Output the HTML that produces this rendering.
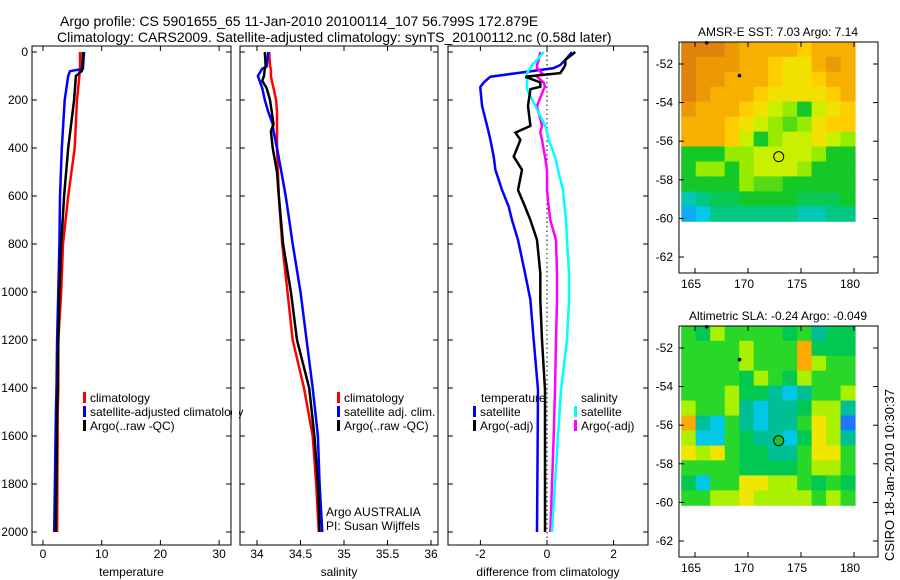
<!DOCTYPE html>
<html><head><meta charset="utf-8"><style>
body{margin:0;background:#fff;}
svg{display:block;font-family:"Liberation Sans",sans-serif;}
text{fill:#000;}
</style></head><body>
<svg id="chart" width="900" height="580" viewBox="0 0 900 580" xmlns="http://www.w3.org/2000/svg">
<rect x="0" y="0" width="900" height="580" fill="#fff"/>
<text x="60" y="26" font-size="14">Argo profile: CS 5901655_65 11-Jan-2010 20100114_107 56.799S 172.879E</text>
<text x="57" y="42" font-size="14">Climatology: CARS2009. Satellite-adjusted climatology: synTS_20100112.nc (0.58d later)</text>
<g id="g"></g>
<text transform="translate(894,475) rotate(-90)" text-anchor="middle" font-size="13">CSIRO 18-Jan-2010 10:30:37</text>
</svg>
<script>
// ---------- profile data ----------
const tempDepth = [0,70,80,100,200,400,600,800,1000,1200,1400,1500,2000];
const tempClim  = [6.3,6.3,6.2,6.2,5.8,5.4,4.3,3.4,3.1,2.6,2.6,2.5,2.4];
const tempSat   = [7.0,6.8,4.6,4.3,3.7,3.2,2.9,2.8,2.6,2.4,2.3,2.2,1.9];
const tempArgo  = [6.8,6.7,6.6,5.6,5.3,4.3,3.6,3.1,2.8,2.6,2.5,2.4,2.2];

const salDepth = [0,60,70,100,120,150,200,250,300,330,400,500,600,800,1000,1200,1400,1600,1800,2000];
const salClim  = [34.14,34.15,34.16,34.16,34.17,34.19,34.22,34.23,34.23,34.23,34.23,34.24,34.25,34.29,34.35,34.41,34.54,34.64,34.68,34.71];
const salSat   = [34.13,34.11,34.06,34.01,34.03,34.06,34.09,34.13,34.18,34.19,34.23,34.28,34.33,34.41,34.50,34.57,34.64,34.70,34.72,34.75];
const salArgo  = [34.09,34.10,34.09,34.08,34.06,34.11,34.15,34.17,34.19,34.16,34.18,34.23,34.25,34.30,34.39,34.46,34.60,34.66,34.70,34.72];

const diffDepth = [0,33,54,67,88,103,127,145,155,225,308,336,366,436,491,575,644,700,783,921,1033,1200,1408,1600,2000];
const dTempSat  = [0.75,0.55,0.4,0.2,-0.9,-1.7,-1.9,-2.0,-2.0,-1.95,-1.8,-1.75,-1.7,-1.6,-1.55,-1.35,-1.15,-1.05,-0.87,-0.66,-0.5,-0.4,-0.27,-0.28,-0.3];
const dTempArgo = [0.85,0.55,0.55,0.5,0.4,-0.65,-0.2,-0.2,-0.5,-0.57,-0.5,-0.95,-0.8,-1.0,-0.75,-0.87,-0.66,-0.5,-0.3,-0.2,-0.2,-0.15,-0.06,-0.06,-0.06];
const dSalSat   = [-0.1,-0.3,-0.45,-0.5,-0.6,-0.6,-0.6,-0.6,-0.6,-0.35,-0.05,0,0.05,0.24,0.33,0.48,0.53,0.57,0.6,0.66,0.66,0.6,0.42,0.33,0.15];
const dSalArgo  = [-0.2,-0.25,-0.3,-0.3,-0.15,-0.3,-0.1,-0.06,-0.1,-0.3,-0.15,-0.2,-0.15,-0.06,0,0,0.05,0.1,0.27,0.3,0.3,0.27,0.24,0.2,0.1];

const depthTicks = [0,200,400,600,800,1000,1200,1400,1600,1800,2000];
const tempTicks = [0,10,20,30];
const salTicks = [34,34.5,35,35.5,36];
const diffTicks = [-2,0,2];

// ---------- map data (12x12, north row first) ----------
const sstGrid = [
[9,9,9,8.5,8,8,8,8,7.5,8,8,8],
[9,8.5,8.5,8.5,8,8,7.5,7,7,8,8.5,8],
[9,8.5,8.5,8,8,8,7.5,7,7,7.5,8,8],
[9,8.5,8,8,8,7.5,7,7,7,7,7.5,8],
[8.5,8,8,8,7.5,7,6.5,6,5,6.5,7,7.5],
[8,8,8,7.5,7,6.5,6,5.5,6,7,7.5,7.5],
[8,8,8,7.5,6.5,5,6,6.5,6.5,7,6.5,6],
[5,5,5,6,6,6.5,6.5,6.5,6.5,6,5,5],
[5,6,6,5,6,6.5,6.5,6.5,6,5,5,5],
[5,5,5,5,6,5.5,5.5,5,5,5,5,5],
[3.5,4,4.5,4.5,5,5,5,5,4.5,4.5,4.5,5],
[2.5,3,4,4,4,4,4,4,3.5,3.5,4,4]];
const slaGrid = [
[0,-0.1,0.1,0,0,0,0,-0.1,0,-0.2,-0.1,-0.1],
[0,0,0,0,0.1,0,0,0,0.3,-0.1,-0.1,-0.1],
[0,0,0,0,0.1,0,0,0,0.3,0.1,0,0],
[0,0,0,0,-0.1,0.1,0,-0.1,0.1,0,0,0],
[0,0,0,0.1,-0.1,-0.1,-0.2,-0.3,-0.2,0,0,0.1],
[0.1,0,0,0.1,-0.2,-0.3,-0.2,-0.2,-0.1,0.1,0.1,-0.2],
[0.3,-0.2,-0.3,0,-0.2,-0.3,-0.2,-0.2,0,0.2,0.1,-0.4],
[0.1,-0.3,-0.3,0,-0.1,-0.2,-0.2,-0.3,-0.1,0.2,0.1,-0.2],
[0.2,0.1,0.2,0,-0.1,-0.1,-0.2,-0.2,0,0.2,0.2,0],
[0,0,0,0,-0.1,-0.1,-0.1,-0.1,0,0.1,0.1,0],
[-0.1,-0.3,0,0,0.2,0.2,0.1,0.1,0,-0.1,0,-0.1],
[0,0,0.1,0.1,0.2,0.1,0.1,0.1,0.1,0,0.1,0]];
const gridLon = [163.7,180.1];
const gridLat = [-50.85,-60.15];
const lonTicks = [165,170,175,180];
const latTicks = [-52,-54,-56,-58,-60,-62];
const argoPos = [172.9,-56.8];
const prevPos = [[169.2,-52.6],[166.1,-50.9]];

const NS='http://www.w3.org/2000/svg';
const G=document.getElementById('g');
function mk(tag,attrs,parent){const e=document.createElementNS(NS,tag);for(const k in attrs)e.setAttribute(k,attrs[k]);(parent||G).appendChild(e);return e;}

const yD = d => 52 + d*0.24;
function panel(name,x0,x1,xs,ticks,tickFmt,label,showY){
  const top=46,bot=545;
  const gp=mk('g',{});
  
  
  const r=mk('rect',{x:x0,y:top,width:x1-x0,height:bot-top,fill:'none',stroke:'#000','stroke-width':1},gp);
  
  
  ticks.forEach(t=>{const x=xs(t);
    mk('line',{x1:x,x2:x,y1:bot,y2:bot-5,stroke:'#000'},gp);
    mk('line',{x1:x,x2:x,y1:top,y2:top+5,stroke:'#000'},gp);
    const tx=mk('text',{x:x,y:558,'font-size':12,'text-anchor':'middle'},gp);tx.textContent=tickFmt(t);
    
    
  });
  depthTicks.forEach(d=>{const y=yD(d);
    mk('line',{x1:x0,x2:x0+5,y1:y,y2:y,stroke:'#000'},gp);
    mk('line',{x1:x1,x2:x1-5,y1:y,y2:y,stroke:'#000'},gp);
    if(showY){const tx=mk('text',{x:28,y:y+4,'font-size':12,'text-anchor':'end'},gp);tx.textContent=d;
      
      }
  });
  const lb=mk('text',{x:(x0+x1)/2,y:576,'font-size':12,'text-anchor':'middle'},gp);lb.textContent=label;
  
  
  return gp;
}
function line(gp,xs,depths,vals,color,name){
  const pts=depths.map((d,i)=>xs(vals[i]).toFixed(1)+','+yD(d).toFixed(1)).join(' ');
  const p=mk('polyline',{points:pts,fill:'none',stroke:color,'stroke-width':2.5},gp);
  
  
}
function legend(gp,x,y,color,txt,name){
  if(color){const m=mk('rect',{x:x,y:y-10,width:3,height:11,fill:color},gp);
    
    }
  const t=mk('text',{x:x+(color?7:0),y:y,'font-size':12},gp);t.textContent=txt;
  
  
}

// temperature panel
const xT=t=>43+t*5.87;
const p1=panel('temperature-panel',32,231,xT,tempTicks,t=>t,'temperature',true);
line(p1,xT,tempDepth,tempClim,'#f00','temp-climatology-line');
line(p1,xT,tempDepth,tempSat,'#00f','temp-satellite-line');
line(p1,xT,tempDepth,tempArgo,'#000','temp-argo-line');
legend(p1,83,402,'#f00','climatology','legend-climatology');
legend(p1,83,416,'#00f','satellite-adjusted climatology','legend-satellite');
legend(p1,83,430,'#000','Argo(..raw -QC)','legend-argo');
// cover overflow of legend beyond panel
mk('rect',{x:232,y:395,width:7,height:30,fill:'#fff'});

// salinity panel
const xS=s=>257+(s-34)*87;
const p2=panel('salinity-panel',240,438,xS,salTicks,t=>t,'salinity',false);
line(p2,xS,salDepth,salClim,'#f00','sal-climatology-line');
line(p2,xS,salDepth,salSat,'#00f','sal-satellite-line');
line(p2,xS,salDepth,salArgo,'#000','sal-argo-line');
legend(p2,337,402,'#f00','climatology','legend-sal-climatology');
legend(p2,337,416,'#00f','satellite adj. clim.','legend-sal-satellite');
legend(p2,337,430,'#000','Argo(..raw -QC)','legend-sal-argo');
legend(p2,326,516,null,'Argo AUSTRALIA','argo-australia-label');
legend(p2,326,530,null,'PI: Susan Wijffels','pi-label');

// difference panel
const xDf=d=>547+d*33.3;
const p3=panel('difference-panel',448,648,xDf,diffTicks,t=>t,'difference from climatology',false);
const zl=mk('line',{x1:xDf(0),x2:xDf(0),y1:46,y2:545,stroke:'#000','stroke-dasharray':'1.5,3'},p3);


line(p3,xDf,diffDepth,dTempSat,'#00f','diff-temp-satellite-line');
line(p3,xDf,diffDepth,dSalArgo,'#f0f','diff-sal-argo-line');
line(p3,xDf,diffDepth,dSalSat,'#0ff','diff-sal-satellite-line');
line(p3,xDf,diffDepth,dTempArgo,'#000','diff-temp-argo-line');
legend(p3,481,402,null,'temperature','legend-temperature-heading');
legend(p3,473,416,'#00f','satellite','legend-diff-temp-satellite');
legend(p3,473,430,'#000','Argo(-adj)','legend-diff-temp-argo');
legend(p3,581,402,null,'salinity','legend-salinity-heading');
legend(p3,574,416,'#0ff','satellite','legend-diff-sal-satellite');
legend(p3,574,430,'#f0f','Argo(-adj)','legend-diff-sal-argo');

// ---------- maps ----------
function lerp(a,b,t){return a+(b-a)*t;}
function cmap(stops,v){
  if(v<=stops[0][0])return stops[0][1];
  for(let i=1;i<stops.length;i++){if(v<=stops[i][0]){const t=(v-stops[i-1][0])/(stops[i][0]-stops[i-1][0]);
    const a=stops[i-1][1],b=stops[i][1];return 'rgb('+[0,1,2].map(k=>Math.round(lerp(a[k],b[k],t))).join(',')+')';}}
  return stops[stops.length-1][1];
}
function rgbS(s){return s.map(v=>[v[0],'rgb('+v[1].join(',')+')',v[1]]);}
const sstStops=[[2,[30,144,255]],[3,[0,200,230]],[4,[0,200,130]],[5,[20,200,40]],[6,[150,235,0]],[6.5,[200,240,0]],[7,[240,225,0]],[7.5,[255,205,0]],[8,[248,176,0]],[9,[225,130,10]]];
const slaStops=[[-0.4,[30,120,255]],[-0.3,[0,200,230]],[-0.2,[0,190,150]],[-0.1,[0,200,80]],[0,[40,215,40]],[0.1,[170,240,0]],[0.2,[240,230,0]],[0.3,[250,170,0]]];
function cm(stops,v){
  if(v<=stops[0][0])return 'rgb('+stops[0][1].join(',')+')';
  for(let i=1;i<stops.length;i++){if(v<=stops[i][0]){const t=(v-stops[i-1][0])/(stops[i][0]-stops[i-1][0]);
    const a=stops[i-1][1],b=stops[i][1];return 'rgb('+[0,1,2].map(k=>Math.round(lerp(a[k],b[k],t))).join(',')+')';}}
  return 'rgb('+stops[stops.length-1][1].join(',')+')';
}
function map(name,top,grid,stops,title,filledCircle){
  const bot=top+231;
  const xL=lon=>748+(lon-170)*10.6;
  const yL=lat=>top+22+(-52-lat)*19.3;
  const gm=mk('g',{});
  
  
  const rows=grid.length, cols=grid[0].length;
  const dlon=(gridLon[1]-gridLon[0])/cols, dlat=(gridLat[0]-gridLat[1])/rows;
  grid.forEach((row,r)=>row.forEach((v,c)=>{
    const x=xL(gridLon[0]+c*dlon), y=yL(gridLat[0]-r*dlat);
    const w=xL(gridLon[0]+(c+1)*dlon)-x, h=yL(gridLat[0]-(r+1)*dlat)-y;
    const cell=mk('rect',{x:x.toFixed(1),y:y.toFixed(1),width:(w+0.5).toFixed(1),height:(h+0.5).toFixed(1),fill:cm(stops,v)},gm);
    
    
  }));
  const fr=mk('rect',{x:679,y:top,width:199,height:bot-top,fill:'none',stroke:'#000'},gm);
  
  
  lonTicks.forEach(l=>{const x=xL(l);
    mk('line',{x1:x,x2:x,y1:bot,y2:bot-5,stroke:'#000'},gm);
    mk('line',{x1:x,x2:x,y1:top,y2:top+5,stroke:'#000'},gm);
    const t=mk('text',{x:x-4,y:bot+15,'font-size':12,'text-anchor':'middle'},gm);t.textContent=l;
    
    });
  latTicks.forEach(l=>{const y=yL(l);
    mk('line',{x1:679,x2:684,y1:y,y2:y,stroke:'#000'},gm);
    mk('line',{x1:878,x2:873,y1:y,y2:y,stroke:'#000'},gm);
    const t=mk('text',{x:673,y:y+4,'font-size':12,'text-anchor':'end'},gm);t.textContent=l;
    
    });
  prevPos.forEach(p=>{const d=mk('circle',{cx:xL(p[0]),cy:yL(p[1]),r:1.8,fill:'#000'},gm);
    
    });
  const c=mk('circle',{cx:xL(argoPos[0]),cy:yL(argoPos[1]),r:5,fill:filledCircle?'#22c030':'none',stroke:'#000'},gm);
  
  
  const tt=mk('text',{x:778,y:top-6,'font-size':12,'text-anchor':'middle'},gm);tt.textContent=title;
  
  
}
map('sst-map',42,sstGrid,sstStops,'AMSR-E SST: 7.03 Argo: 7.14',false);
map('sla-map',326,slaGrid,slaStops,'Altimetric SLA: -0.24 Argo: -0.049',true);
</script>
</body></html>
